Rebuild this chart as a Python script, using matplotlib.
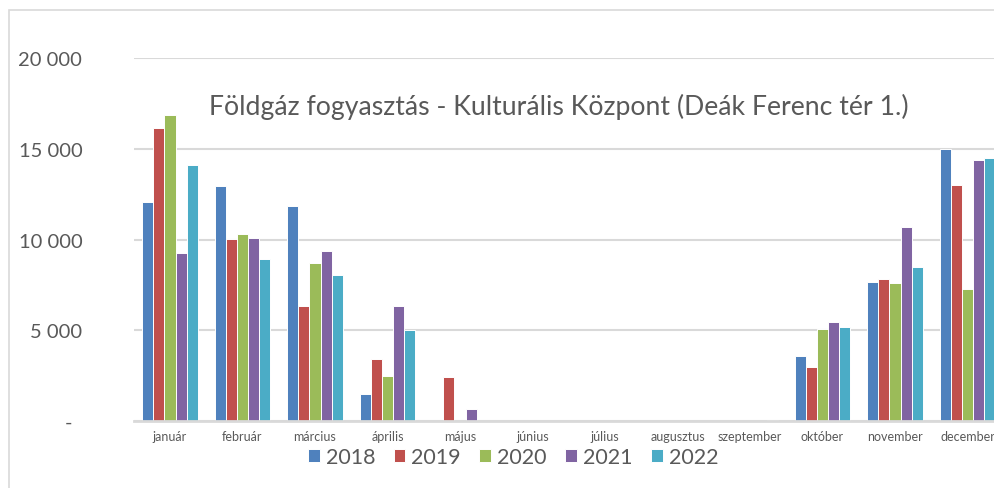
import matplotlib
matplotlib.use("Agg")
import matplotlib.pyplot as plt
import numpy as np
from matplotlib.patches import Rectangle

months = ["január", "február", "március", "április", "május", "június",
          "július", "augusztus", "szeptember", "október", "november", "december"]
years = ["2018", "2019", "2020", "2021", "2022"]
v2018 = [12050, 12940, 11850, 1490, 0, 0, 0, 0, 0, 3610, 7690, 15010]
v2019 = [16140, 10030, 6350, 3410, 2440, 0, 0, 0, 0, 2990, 7850, 13000]
v2020 = [16850, 10310, 8720, 2500, 0, 0, 0, 0, 0, 5080, 7630, 7270]
v2021 = [9240, 10110, 9380, 6350, 660, 0, 0, 0, 0, 5490, 10720, 14390]
v2022 = [14110, 8930, 8060, 5040, 40, 0, 0, 0, 80, 5180, 8480, 14480]
series = [v2018, v2019, v2020, v2021, v2022]
colors = ["#4F81BD", "#C0504D", "#9BBB59", "#8064A2", "#4BACC6"]
yticks = [0, 5000, 10000, 15000, 20000]
ytick_labels = ["-  ", "5 000", "10 000", "15 000", "20 000"]
title = "Földgáz fogyasztás - Kulturális Központ (Deák Ferenc tér 1.)"

plt.rcParams['font.family'] = ['Lato', 'DejaVu Sans']
W, H = 995, 489
fig = plt.figure(figsize=(W / 100, H / 100), dpi=100)
fig.patch.set_facecolor("white")

# chart border
fig.add_artist(Rectangle((9 / W, -0.1), 1.2, 1 - 11 / H + 0.1, transform=fig.transFigure,
                         fill=False, edgecolor="#D9D9D9", linewidth=1.2))

left = 133.75 / W
width = 870 / W
bottom = 1 - 422.3 / H
top = 1 - 59 / H
ax = fig.add_axes([left, bottom, width, top - bottom])
ax.set_facecolor("none")

x = np.arange(len(months))
bw = 0.152
for i, (vals, c, yr) in enumerate(zip(series, colors, years)):
    ax.bar(x + (i - 2) * bw, vals, width=bw, color=c, edgecolor="white",
           linewidth=0.7, label=yr, zorder=3)

ax.set_xlim(-0.5, len(months) - 0.5)
ax.set_ylim(0, 20000)
ax.set_yticks(yticks)
ax.set_yticklabels(ytick_labels, fontsize=14.5, color="#595959")
ax.set_xticks(x)
ax.set_xticklabels(months, fontsize=9, color="#595959")
ax.tick_params(axis="y", length=0, pad=37)
ax.tick_params(axis="x", length=0, pad=6)
ax.yaxis.grid(True, color="#D9D9D9", linewidth=1.5, zorder=0)
for s in ["top", "right", "left"]:
    ax.spines[s].set_visible(False)
ax.spines["bottom"].set_color("#D9D9D9")
ax.spines["bottom"].set_linewidth(2)
ax.spines["bottom"].set_zorder(4)

fig.text(559 / W, 1 - 107 / H, title, ha="center", va="center",
         fontsize=19.2, color="#595959")

leg = fig.legend(loc="center", bbox_to_anchor=(513 / W, 1 - 458 / H), ncol=5,
                 frameon=False, fontsize=15.5, handlelength=0.55, handleheight=0.55,
                 handletextpad=0.28, columnspacing=0.85, borderpad=0)
for t in leg.get_texts():
    t.set_color("#595959")

fig.savefig("out.png", dpi=100)
